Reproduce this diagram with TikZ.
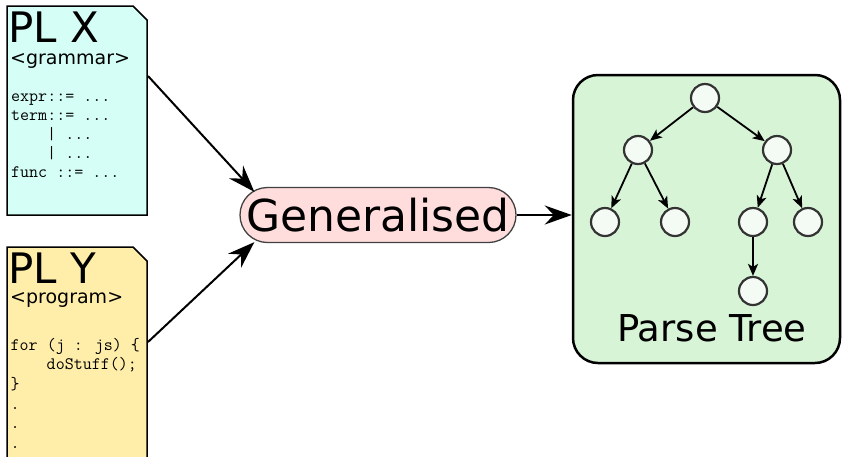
\documentclass[tikz,border=0pt]{standalone}
\usepackage{fontspec}
\setmainfont{DejaVu Sans}
\usetikzlibrary{arrows.meta}
\definecolor{docx}{HTML}{D5FFF6}
\definecolor{docy}{HTML}{FFEEAA}
\definecolor{genpink}{HTML}{FFDDDD}
\definecolor{treegreen}{HTML}{D7F4D7}
\definecolor{leaf}{HTML}{F4FBF4}
\begin{document}
\begin{tikzpicture}[x=1pt,y=-1pt,
  doc/.style={draw=black,line width=1.5pt},
  title/.style={inner sep=0pt,anchor=base west,text depth=0pt,font=\fontsize{42}{42}\selectfont},
  sub/.style={inner sep=0pt,anchor=base west,font=\fontsize{19}{19}\selectfont},
  code/.style={inner sep=0pt,anchor=base west,font=\ttfamily\fontsize{17.5}{17.5}\selectfont},
  bigarrow/.style={line width=2pt,-{Stealth[length=27pt,width=19pt,inset=9pt]}},
  tn/.style={circle,draw=black!80,line width=2.2pt,fill=leaf,minimum size=28pt,inner sep=0pt},
  te/.style={line width=1.8pt,-{Stealth[length=12pt,width=10pt,inset=3pt]}}]
\useasboundingbox (0,0) rectangle (842,456);
% documents
\draw[doc,fill=docx] (7,6)--(133,6)--(147,20)--(147,215)--(7,215)--cycle;
\draw[doc,fill=docy] (7,247)--(133,247)--(147,261)--(147,470)--(7,470)--cycle;
\coordinate (xout) at (148,76);
\coordinate (yout) at (148,342);
\node[title] (plx) at (8,42) {PL X};
\node[sub] (gram) at (10,64) {<grammar>};
\node[code] (cx1) at (11,101) {expr::= ...};
\node[code] (cx2) at (11,120) {term::= ...};
\node[code] (cx3) at (11,139) {\ \ \ \ | ...};
\node[code] (cx4) at (11,158) {\ \ \ \ | ...};
\node[code] (cx5) at (11,177) {func ::= ...};
\node[title] (ply) at (8,283) {PL Y};
\node[sub] (prog) at (10,303) {<program>};
\node[code] (cy1) at (10.5,350) {for (j : js) \{};
\node[code] (cy2) at (10.5,369.5) {\ \ \ \ doStuff();};
\node[code] (cy3) at (10.5,389) {\}};
\node[code] (cy4) at (10.5,409) {.};
\node[code] (cy5) at (10.5,428.5) {.};
\node[code] (cy6) at (10.5,448) {.};
% generalised
\node[draw=black!75,line width=1.3pt,fill=genpink,rounded corners=27.5pt,
  minimum width=276pt,minimum height=55pt,inner sep=0pt,
  font=\fontsize{44}{44}\selectfont] (gen) at (378,215) {Generalised};
% tree box
\node[draw=black,line width=2.5pt,fill=treegreen,rounded corners=25pt,
  minimum width=267pt,minimum height=288pt,inner sep=0pt] (tree) at (706.5,219) {};
\node[inner sep=0pt,anchor=base,font=\fontsize{37}{37}\selectfont] (ptl) at (712,341) {Parse Tree};
% arrows
\draw[bigarrow] (xout) -- ([shift={(15,5)}]gen.north west);
\draw[bigarrow] (yout) -- ([shift={(15,-1)}]gen.south west);
\draw[bigarrow] (gen.east) -- (gen.east -| tree.west);
% tree nodes
\node[tn] (r) at (705,98) {};
\node[tn] (a) at (638,150) {};
\node[tn] (b) at (777,150) {};
\node[tn] (aa) at (605,222) {};
\node[tn] (ab) at (675,222) {};
\node[tn] (ba) at (753,222) {};
\node[tn] (bb) at (808,222) {};
\node[tn] (baa) at (753,291) {};
\draw[te] (r) -- (a);
\draw[te] (r) -- (b);
\draw[te] (a) -- (aa);
\draw[te] (a) -- (ab);
\draw[te] (b) -- (ba);
\draw[te] (b) -- (bb);
\draw[te] (ba) -- (baa);
\end{tikzpicture}
\end{document}
